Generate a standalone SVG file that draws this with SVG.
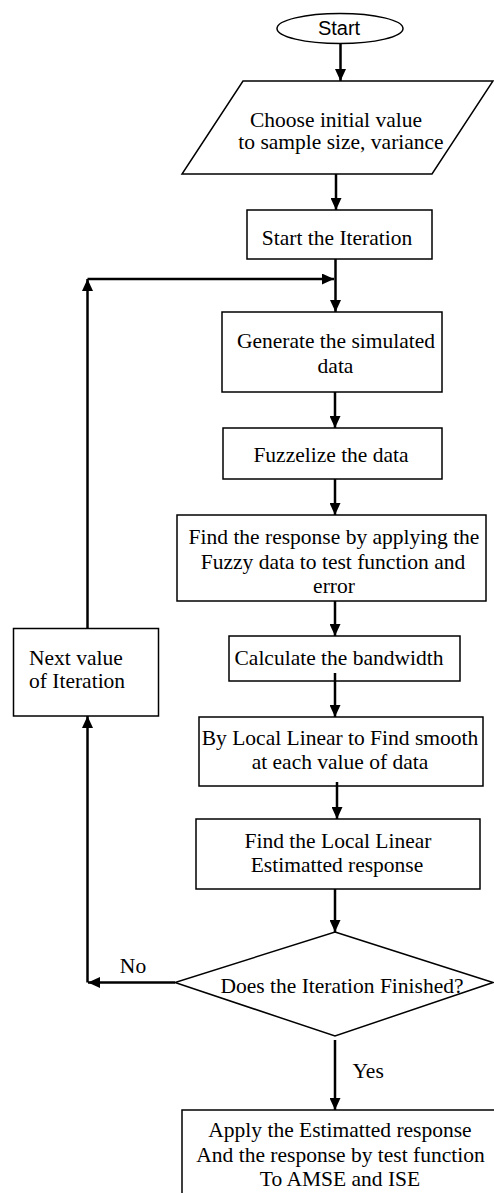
<svg xmlns="http://www.w3.org/2000/svg" width="494" height="1193" viewBox="0 0 494 1193">
<style>
.n{fill:#fff;stroke:#000;stroke-width:1.5}
.t{font-family:"Liberation Serif","Times New Roman",serif;font-size:21.5px;fill:#000;text-anchor:middle}
.l{text-anchor:start}
.s{font-family:"Liberation Sans",Arial,sans-serif;font-size:20px;fill:#000;text-anchor:middle}
.c{fill:none;stroke:#000;stroke-width:2.5;marker-end:url(#ah)}
</style>
<defs>
<marker id="ah" markerUnits="userSpaceOnUse" markerWidth="12" markerHeight="11" refX="12" refY="5.5" orient="auto">
<path d="M0,0 L12,5.5 L0,11 z" fill="#000"/>
</marker>
</defs>
<rect width="494" height="1193" fill="#fff"/>
<g id="start">
<ellipse class="n" cx="340" cy="28.5" rx="63" ry="15"/>
<text class="s" x="339" y="35">Start</text>
</g>
<g id="input">
<polygon class="n" points="243,81 493,81 432,174 182,174"/>
<text class="t" x="336" y="127">Choose initial value</text>
<text class="t" x="341" y="149">to sample size, variance</text>
</g>
<g id="startIter">
<rect class="n" x="247" y="210" width="185" height="49"/>
<text class="t" x="337" y="245">Start the Iteration</text>
</g>
<g id="generate">
<rect class="n" x="222" y="312" width="220" height="80"/>
<text class="t" x="336" y="348">Generate the simulated</text>
<text class="t" x="335.5" y="373">data</text>
</g>
<g id="fuzz">
<rect class="n" x="223" y="428" width="219" height="51"/>
<text class="t" x="331" y="462">Fuzzelize the data</text>
</g>
<g id="findResp">
<rect class="n" x="177" y="515" width="309" height="86"/>
<text class="t" x="334" y="544">Find the response by applying the</text>
<text class="t" x="333" y="569">Fuzzy data to test function and</text>
<text class="t" x="334" y="593">error</text>
</g>
<g id="nextVal">
<rect class="n" x="13.5" y="628.5" width="145" height="87.5"/>
<text class="t l" x="29" y="665">Next value</text>
<text class="t l" x="29" y="688">of Iteration</text>
</g>
<g id="calc">
<rect class="n" x="229" y="636" width="231" height="45"/>
<text class="t" x="339" y="665">Calculate the bandwidth</text>
</g>
<g id="byLocal">
<rect class="n" x="199" y="717" width="284" height="69"/>
<text class="t" x="340" y="745">By Local Linear to Find smooth</text>
<text class="t" x="340" y="769">at each value of data</text>
</g>
<g id="findLocal">
<rect class="n" x="196" y="819" width="284" height="70"/>
<text class="t" x="338" y="848">Find the Local Linear</text>
<text class="t" x="337" y="872">Estimatted response</text>
</g>
<g id="decision">
<polygon class="n" points="335,932 493,982.5 335,1036 175,982.5"/>
<text class="t" x="342" y="993">Does the Iteration Finished?</text>
</g>
<g id="apply">
<rect class="n" x="182" y="1110" width="330" height="100"/>
<text class="t" x="340" y="1137">Apply the Estimatted response</text>
<text class="t" x="340.5" y="1162">And the response by test function</text>
<text class="t" x="340" y="1186">To AMSE and ISE</text>
</g>
<g id="connectors">
<path class="c" d="M340.5,43.5 V81"/>
<path class="c" d="M336,174 V210"/>
<path class="c" d="M335.5,259 V312"/>
<path class="c" d="M87.5,628.5 V279"/>
<path class="c" d="M87.5,279 H334"/>
<path class="c" d="M335,392 V428"/>
<path class="c" d="M335,479 V515"/>
<path class="c" d="M335,601 V636"/>
<path class="c" d="M335,673 V717"/>
<path class="c" d="M337,782 V819"/>
<path class="c" d="M335,889 V932"/>
<path class="c" d="M175,982.5 H88"/>
<path class="c" d="M87.5,982.5 V716"/>
<path class="c" d="M335,1040 V1110"/>
<text class="t" x="133" y="973">No</text>
<text class="t l" x="352.5" y="1078">Yes</text>
</g>
</svg>
